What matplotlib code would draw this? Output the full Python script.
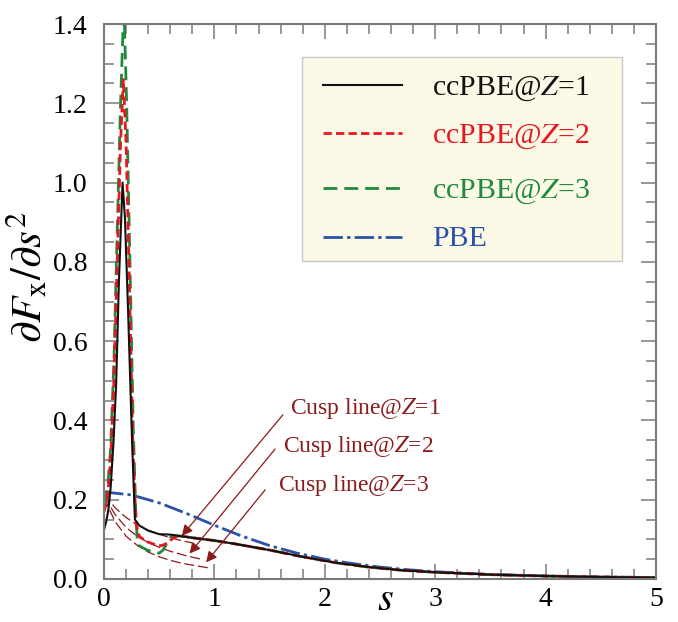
import matplotlib
matplotlib.use("Agg")
import matplotlib.pyplot as plt
from matplotlib.patches import Rectangle
from matplotlib.ticker import MultipleLocator

plt.rcParams['font.family'] = ['Liberation Serif', 'DejaVu Serif']
plt.rcParams['mathtext.fontset'] = 'stix'

# ---------------- data ----------------
s_z1 = [0, 0.02, 0.04, 0.06, 0.085, 0.11, 0.135, 0.168, 0.19, 0.22, 0.255, 0.28,
        0.32, 0.4, 0.5, 0.6, 0.7, 0.8, 1.0, 1.2, 1.5, 1.8, 2.1, 2.4, 2.7, 3.0,
        3.5, 4.0, 4.5, 5.0]
y_z1 = [0.124, 0.145, 0.175, 0.23, 0.34, 0.49, 0.75, 1.0, 0.91, 0.66, 0.34, 0.15,
        0.135, 0.122, 0.113, 0.112, 0.108, 0.104, 0.097, 0.088, 0.073, 0.056, 0.041,
        0.030, 0.022, 0.017, 0.011, 0.0075, 0.005, 0.0035]

s_z2 = [0, 0.03, 0.06, 0.09, 0.12, 0.15, 0.175, 0.2, 0.23, 0.26, 0.29, 0.32,
        0.39, 0.45, 0.52, 0.57, 0.63, 0.69, 0.8, 1.0, 1.2, 1.5, 1.8, 2.1, 2.4,
        2.7, 3.0, 3.5, 4.0, 4.5, 5.0]
y_z2 = [0.17, 0.2, 0.3, 0.5, 0.8, 1.1, 1.26, 1.1, 0.75, 0.35, 0.14, 0.107,
        0.094, 0.088, 0.084, 0.09, 0.104, 0.109, 0.104, 0.097, 0.088, 0.073, 0.056,
        0.041, 0.030, 0.022, 0.017, 0.011, 0.0075, 0.005, 0.0035]

s_z3 = [0, 0.03, 0.06, 0.09, 0.12, 0.15, 0.18, 0.205, 0.235, 0.265, 0.29, 0.305,
        0.39, 0.5, 0.535, 0.6, 0.64, 0.7, 0.8, 1.0, 1.2, 1.5, 1.8, 2.1, 2.4,
        2.7, 3.0, 3.5, 4.0, 4.5, 5.0]
y_z3 = [0.19, 0.22, 0.33, 0.55, 0.88, 1.2, 1.45, 1.2, 0.8, 0.38, 0.15, 0.086,
        0.073, 0.065, 0.073, 0.105, 0.109, 0.108, 0.104, 0.097, 0.088, 0.073, 0.056,
        0.041, 0.030, 0.022, 0.017, 0.011, 0.0075, 0.005, 0.0035]

s_pbe = [0, 0.25, 0.5, 0.75, 1.0, 1.25, 1.5, 1.75, 2.0, 2.25, 2.5, 2.75, 3.0,
         3.5, 4.0, 4.5, 5.0]
y_pbe = [0.2195, 0.212, 0.192, 0.165, 0.1356, 0.108, 0.0843, 0.0651, 0.0501,
         0.039, 0.030, 0.0235, 0.0184, 0.0116, 0.0076, 0.0052, 0.0036]

cusp_s1 = [0, 0.1, 0.2, 0.3, 0.4, 0.5, 0.6, 0.7, 0.8]
cusp_y1 = [0.215, 0.18, 0.155, 0.137, 0.123, 0.113, 0.104, 0.097, 0.091]
cusp_s2 = [0, 0.1, 0.2, 0.3, 0.4, 0.5, 0.6, 0.7, 0.8, 0.88]
cusp_y2 = [0.21, 0.163, 0.13, 0.108, 0.092, 0.08, 0.07, 0.062, 0.055, 0.05]
cusp_s3 = [0, 0.1, 0.2, 0.3, 0.4, 0.5, 0.6, 0.7, 0.8, 0.97]
cusp_y3 = [0.205, 0.145, 0.108, 0.085, 0.068, 0.056, 0.047, 0.040, 0.035, 0.027]

cusp_labels = ['Cusp line@$Z$=1', 'Cusp line@$Z$=2', 'Cusp line@$Z$=3']
arrow_tips = [(0.705, 0.109), (0.775, 0.064), (0.925, 0.042)]
arrow_tails = [(1.62, 0.414), (1.55, 0.328), (1.46, 0.225)]
label_pos = [(1.685, 0.431), (1.62, 0.333), (1.576, 0.237)]

legend_labels = ['ccPBE@$Z$=1', 'ccPBE@$Z$=2', 'ccPBE@$Z$=3', 'PBE']

x_ticks = [0, 1, 2, 3, 4, 5]
y_ticks = [0.0, 0.2, 0.4, 0.6, 0.8, 1.0, 1.2, 1.4]

# ---------------- styles ----------------
C_BLACK = '#111111'
C_RED = '#E8161E'
C_GREEN = '#1F8A3B'
C_BLUE = '#2A52A8'
C_CUSP = '#8B1A1A'
C_FRAME = '#7a7a7a'

fig = plt.figure(figsize=(6.78, 6.22), dpi=100)
ax = fig.add_axes([104 / 678, 43 / 622, 552 / 678, 555 / 622])

ax.plot(s_pbe, y_pbe, color=C_BLUE, lw=2.0, dashes=(7, 1.5, 1.2, 1.5))
for cs, cy in [(cusp_s1, cusp_y1), (cusp_s2, cusp_y2), (cusp_s3, cusp_y3)]:
    ax.plot(cs, cy, color=C_CUSP, lw=0.9, dashes=(8, 3))
ax.plot(s_z3, y_z3, color=C_GREEN, lw=2.0, dashes=(5, 2.5))
ax.plot(s_z2, y_z2, color=C_RED, lw=2.0, dashes=(3, 1.5))
ax.plot(s_z1, y_z1, color=C_BLACK, lw=1.5)

for tip, tail, lab, pos in zip(arrow_tips, arrow_tails, cusp_labels, label_pos):
    ax.annotate('', xy=tip, xytext=tail,
                arrowprops=dict(arrowstyle='-|>', color=C_CUSP, lw=0.9,
                                mutation_scale=16, shrinkA=0, shrinkB=0))
    ax.text(pos[0], pos[1], lab, color=C_CUSP, fontsize=17, va='center', ha='left')

ax.set_xlim(0, 5)
ax.set_ylim(0, 1.4)
ax.set_xticks(x_ticks)
ax.set_xticklabels([str(v) for v in x_ticks])
ax.set_yticks(y_ticks)
ax.set_yticklabels(['%.1f' % v for v in y_ticks])
ax.xaxis.set_minor_locator(MultipleLocator(0.2))
ax.yaxis.set_minor_locator(MultipleLocator(0.05))
ax.tick_params(which='both', direction='in', top=True, right=True,
               color=C_FRAME, width=1.1, labelsize=20)
ax.tick_params(which='major', length=11)
ax.tick_params(which='minor', length=7)
ax.tick_params(axis='y', which='major', pad=12)
ax.tick_params(axis='x', which='major', pad=6)
for sp in ax.spines.values():
    sp.set_color(C_FRAME)
    sp.set_linewidth(1.5)

ax.set_xlabel('$s$', fontsize=29)
ax.xaxis.set_label_coords(0.509, -0.005)
ax.set_ylabel(r'$\partial F_{\mathrm{x}}/\partial s^{2}$', fontsize=31)
ax.yaxis.set_label_coords(-0.097, 0.544)

# ---------------- legend (manual) ----------------
ax.add_patch(Rectangle((0.3587, 0.573), 0.9384 - 0.3587, 0.9405 - 0.573,
                       transform=ax.transAxes, facecolor='#FCF9E6',
                       edgecolor='#c8c8c8', lw=1.0, zorder=5, clip_on=False))
leg_styles = [dict(color=C_BLACK, lw=1.5),
              dict(color=C_RED, lw=2.0, dashes=(3, 1.5)),
              dict(color=C_GREEN, lw=2.0, dashes=(5, 2.5)),
              dict(color=C_BLUE, lw=2.0, dashes=(7, 1.5, 1.2, 1.5))]
leg_colors = [C_BLACK, C_RED, C_GREEN, C_BLUE]
row_y = [0.890, 0.8036, 0.7045, 0.6162]
for lab, st, col, ry in zip(legend_labels, leg_styles, leg_colors, row_y):
    ax.plot([0.3967, 0.5399], [ry, ry], transform=ax.transAxes, zorder=6,
            clip_on=False, **st)
    ax.text(0.5942, ry - 0.017, lab, transform=ax.transAxes, color=col,
            fontsize=21.5, va='baseline', ha='left', zorder=7)

fig.savefig('out.png', dpi=100)
